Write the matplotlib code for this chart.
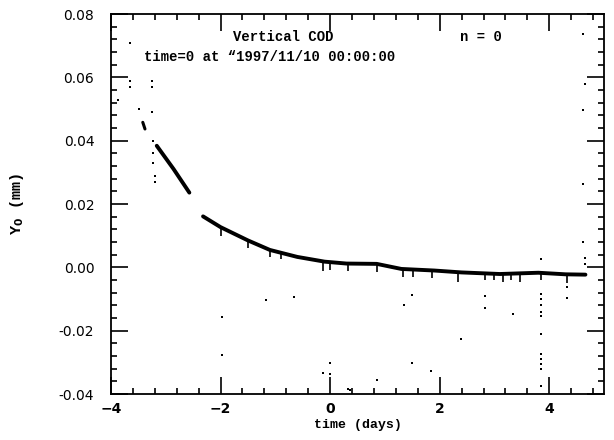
import matplotlib
matplotlib.use("Agg")
import matplotlib.pyplot as plt
from matplotlib.ticker import MultipleLocator, FormatStrFormatter

# main drift band (time in days, Y0 in mm)
seg_a_t = [-3.42, -3.38]
seg_a_y = [0.0458, 0.0437]

seg_b_t = [-3.165, -2.86, -2.57]
seg_b_y = [0.0384, 0.0311, 0.0236]

seg_c_t = [-2.32, -2.0, -1.5, -1.1, -0.6, -0.1, 0.3, 0.85, 1.3, 1.9, 2.4, 3.1, 3.8, 4.3, 4.66]
seg_c_y = [0.0161, 0.0127, 0.0085, 0.0055, 0.0033, 0.0018, 0.0012, 0.0011, -0.0005,
           -0.0010, -0.0016, -0.0021, -0.0017, -0.0022, -0.0023]

# short downward glitches on the band
spike_t = [-2.0, -1.5, -1.1, -0.9, -0.13, 0.0, 0.33, 0.86, 1.33, 1.52, 1.86, 2.34,
           2.83, 3.0, 3.16, 3.3, 3.47, 3.84, 4.33]
spike_top = [0.0125, 0.0083, 0.0053, 0.0045, 0.0017, 0.0017, 0.0012, 0.0011, -0.0005,
             -0.0007, -0.0010, -0.0016, -0.0019, -0.0020, -0.0021, -0.0021, -0.0020, -0.0017, -0.0022]
spike_bot = [0.0100, 0.0060, 0.0033, 0.0025, -0.0010, -0.0008, -0.0010, -0.0015, -0.0030,
             -0.0030, -0.0035, -0.0045, -0.0040, -0.0040, -0.0045, -0.0040, -0.0045, -0.0040, -0.0050]

# isolated outlier readings
out_t = [-3.65, -3.65, -3.65, -3.87, -3.25, -3.25, -3.48, -3.25, -3.24, -3.24, -3.24, -3.2, -3.2,
         -1.98, -1.98, -1.17, -0.66, 0.0, -0.13, 0.0, 0.33, 0.37, 0.85, 1.49, 1.34, 1.49, 1.84,
         2.39, 2.83, 2.83, 3.34, 3.84, 3.84, 3.84, 3.84, 3.84, 3.84, 3.84, 3.84, 3.84, 3.84,
         3.84, 3.84, 4.33, 4.33, 4.62, 4.62, 4.62, 4.62, 4.65, 4.65, 4.65]
out_y = [0.071, 0.059, 0.057, 0.053, 0.059, 0.057, 0.050, 0.049, 0.040, 0.036, 0.033, 0.029, 0.027,
         -0.0158, -0.0276, -0.0103, -0.0095, -0.0303, -0.0334, -0.0336, -0.0385, -0.0387, -0.0357,
         -0.0088, -0.0118, -0.0303, -0.0327, -0.0225, -0.0090, -0.0129, -0.0148, 0.0027, -0.0083,
         -0.0100, -0.0120, -0.0140, -0.0153, -0.0211, -0.0273, -0.0290, -0.0305, -0.0320, -0.0375,
         -0.0062, -0.0098, 0.0736, 0.0496, 0.0262, 0.0081, 0.0578, 0.0030, 0.0010]

fig = plt.figure(figsize=(6.14, 4.40), dpi=100)
ax = fig.add_axes([0.1808, 0.1045, 0.803, 0.8636])

ax.plot(seg_a_t, seg_a_y, color="black", lw=2.2, solid_capstyle="round")
ax.plot(seg_b_t, seg_b_y, color="black", lw=2.8, solid_capstyle="round")
ax.plot(seg_c_t, seg_c_y, color="black", lw=2.8, solid_capstyle="round")
ax.vlines(spike_t, spike_bot, spike_top, color="black", lw=1.2)
ax.scatter(out_t, out_y, s=2, color="black", marker="s", linewidths=0)

ax.set_xlim(-4, 5)
ax.set_ylim(-0.04, 0.08)
ax.xaxis.set_major_locator(MultipleLocator(2))
ax.xaxis.set_minor_locator(MultipleLocator(0.4))
ax.yaxis.set_major_locator(MultipleLocator(0.02))
ax.yaxis.set_minor_locator(MultipleLocator(0.004))
ax.yaxis.set_major_formatter(FormatStrFormatter("%.2f"))
ax.tick_params(which="both", direction="in", top=True, right=True, width=1.2, colors="black")
ax.tick_params(which="major", length=12)
ax.tick_params(which="minor", length=4.5)
for lab in ax.get_xticklabels():
    lab.set_fontweight("bold")
    lab.set_fontsize(10)
for lab in ax.get_yticklabels():
    lab.set_fontsize(10)
ax.tick_params(axis="y", pad=12)
ax.tick_params(axis="x", pad=6)
for s in ax.spines.values():
    s.set_linewidth(1.3)

mono = "Liberation Mono"
ax.text(0.349, 0.940, "Vertical COD", transform=ax.transAxes, ha="center", va="center",
        family=mono, fontweight="bold", fontsize=10)
ax.text(0.75, 0.940, "n = 0", transform=ax.transAxes, ha="center", va="center",
        family=mono, fontweight="bold", fontsize=10)
ax.text(0.067, 0.887, "time=0 at \u201c1997/11/10 00:00:00", transform=ax.transAxes,
        ha="left", va="center", family=mono, fontweight="bold", fontsize=10)

ax.set_xlabel("time (days)", family=mono, fontweight="bold", fontsize=9.5, labelpad=2)
ax.set_ylabel("Y$_\\mathbf{0}$ (mm)", family=mono, fontweight="bold", fontsize=11, labelpad=24)

fig.savefig("out.png", dpi=100)
